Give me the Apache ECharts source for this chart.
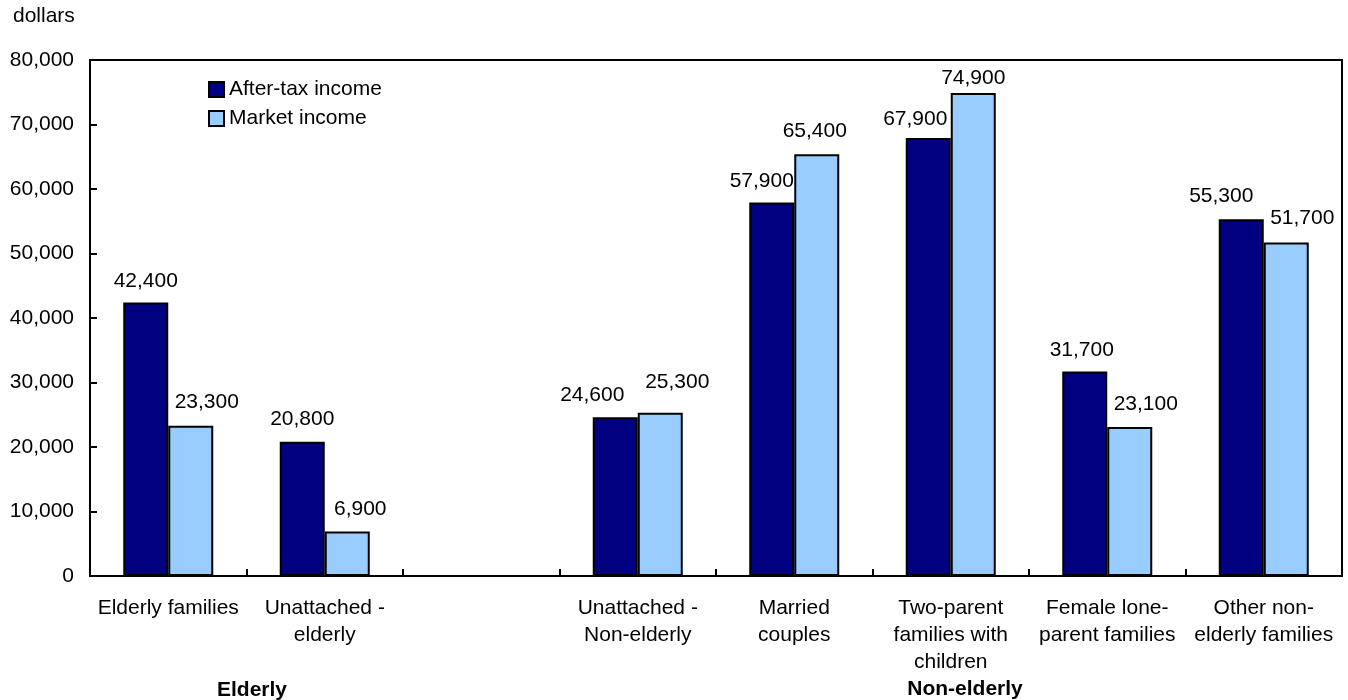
<!DOCTYPE html>
<html>
<head>
<meta charset="utf-8">
<title>After-tax and market income by family type</title>
<script src="https://cdn.jsdelivr.net/npm/echarts@6/dist/echarts.min.js"></script>
<style>
  html, body { margin: 0; padding: 0; background: #fff; }
  #chart { width: 1348px; height: 700px; }
</style>
</head>
<body>
<div id="chart"></div>
<script>
// Family types (the empty slot separates the elderly and non-elderly groups)
const categories = [
  'Elderly families',
  'Unattached -\nelderly',
  '',
  'Unattached -\nNon-elderly',
  'Married\ncouples',
  'Two-parent\nfamilies with\nchildren',
  'Female lone-\nparent families',
  'Other non-\nelderly families'
];

// Average income, dollars
const afterTaxIncome = [42400, 20800, null, 24600, 57900, 67900, 31700, 55300];
const marketIncome   = [23300, 6900,  null, 25300, 65400, 74900, 23100, 51700];

const seriesNames = ['After-tax income', 'Market income'];
const groupLabels = ['Elderly', 'Non-elderly'];
const yTicks = { min: 0, max: 80000, interval: 10000 };

// Hand-placed value labels: [dx, dy] nudges away from the default top position
const afterTaxLabelShift = [[0, 1], [0, 0], [0, 0], [-23, 0], [-10, 1], [-13, 4], [-3, 1], [-20, -1]];
const marketLabelShift   = [[16, -1], [13, 0], [0, 0], [17, -8], [-2, 0], [0, 8], [16, 0], [16, -2]];

const FONT = '"Liberation Sans", Arial, Helvetica, sans-serif';
const fmt = v => Number(v).toLocaleString('en-US');

function buildData(values, shifts) {
  return values.map((v, i) => ({
    value: v,
    label: { offset: shifts[i] }
  }));
}

const chart = echarts.init(document.getElementById('chart'), null, { renderer: 'canvas' });

const barLabel = {
  show: true,
  position: 'top',
  distance: 12,
  color: '#000',
  fontFamily: FONT,
  fontSize: 21,
  formatter: p => fmt(p.value)
};

chart.setOption({
  animation: false,
  backgroundColor: '#fff',
  textStyle: { fontFamily: FONT },
  grid: {
    left: 90, right: 6, top: 60, bottom: 124,
    show: true,
    borderColor: '#000',
    borderWidth: 2,
    backgroundColor: 'transparent'
  },
  legend: {
    orient: 'vertical',
    left: 208,
    top: 79,
    padding: 0,
    itemWidth: 15,
    itemHeight: 15,
    itemGap: 8,
    icon: 'rect',
    textStyle: { color: '#000', fontFamily: FONT, fontSize: 21 },
    data: seriesNames
  },
  xAxis: {
    type: 'category',
    data: categories,
    boundaryGap: true,
    axisLine: { show: true, lineStyle: { color: '#000', width: 2 } },
    axisTick: { show: true, inside: true, length: 7, interval: 0, lineStyle: { color: '#000', width: 2 } },
    axisLabel: {
      interval: 0,
      color: '#000',
      fontFamily: FONT,
      fontSize: 21,
      lineHeight: 27,
      margin: 19,
      align: 'center'
    },
    splitLine: { show: false }
  },
  yAxis: {
    type: 'value',
    min: yTicks.min,
    max: yTicks.max,
    interval: yTicks.interval,
    axisLine: { show: true, lineStyle: { color: '#000', width: 2 } },
    axisTick: { show: true, inside: true, length: 7, lineStyle: { color: '#000', width: 2 } },
    axisLabel: {
      color: '#000',
      fontFamily: FONT,
      fontSize: 21,
      margin: 16,
      formatter: v => fmt(v)
    },
    splitLine: { show: false }
  },
  graphic: [
    {
      type: 'text', left: 13, top: 6,
      style: { text: 'dollars', fill: '#000', font: '21px ' + FONT }
    },
    {
      type: 'text', x: 252, y: 690,
      style: { text: groupLabels[0], fill: '#000', font: 'bold 21px ' + FONT, align: 'center', verticalAlign: 'middle' }
    },
    {
      type: 'text', x: 965, y: 689,
      style: { text: groupLabels[1], fill: '#000', font: 'bold 21px ' + FONT, align: 'center', verticalAlign: 'middle' }
    }
  ],
  series: [
    {
      name: seriesNames[0],
      type: 'bar',
      barWidth: 45,
      barGap: '0%',
      itemStyle: { color: '#000080', borderColor: '#000', borderWidth: 2 },
      label: barLabel,
      data: buildData(afterTaxIncome, afterTaxLabelShift)
    },
    {
      name: seriesNames[1],
      type: 'bar',
      barWidth: 45,
      barGap: '0%',
      itemStyle: { color: '#99CCFF', borderColor: '#000', borderWidth: 2 },
      label: barLabel,
      data: buildData(marketIncome, marketLabelShift)
    }
  ]
});
</script>
</body>
</html>
